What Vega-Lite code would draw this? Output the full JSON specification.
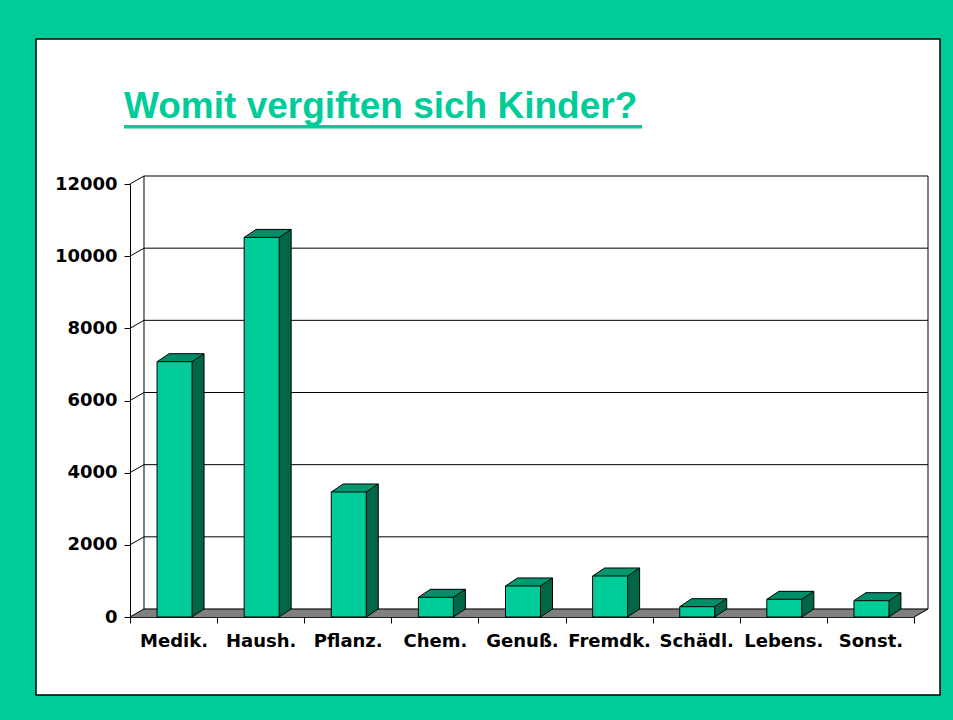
{
  "$schema": "https://vega.github.io/schema/vega-lite/v6.json",
  "width": 904,
  "height": 656,
  "autosize": "none",
  "padding": {"left": 36, "top": 39, "right": 13, "bottom": 25},
  "background": "#00CC99",
  "config": {
    "view": {"fill": "#FFFFFF", "stroke": "#000000", "strokeWidth": 1.5},
    "axis": {"labelFont": "DejaVu Sans", "labelFontWeight": "bold", "labelFontSize": 18, "labelColor": "#000000", "domainColor": "#000000", "tickColor": "#000000", "grid": false}
  },
  "title": {
    "text": "Womit vergiften sich Kinder?",
    "anchor": "start",
    "frame": "group",
    "offset": -116,
    "dx": 88,
    "baseline": "alphabetic",
    "font": "Liberation Sans",
    "fontSize": 37,
    "fontWeight": "bold",
    "color": "#00CC99"
  },
  "datasets": {
    "gift": [
      {"Kategorie": "Medik.", "Anzahl": 7075},
      {"Kategorie": "Haush.", "Anzahl": 10520},
      {"Kategorie": "Pflanz.", "Anzahl": 3465},
      {"Kategorie": "Chem.", "Anzahl": 546},
      {"Kategorie": "Genuß.", "Anzahl": 860},
      {"Kategorie": "Fremdk.", "Anzahl": 1136},
      {"Kategorie": "Schädl.", "Anzahl": 285},
      {"Kategorie": "Lebens.", "Anzahl": 490},
      {"Kategorie": "Sonst.", "Anzahl": 452}
    ],
    "raster": [{"wert": 0}, {"wert": 2000}, {"wert": 4000}, {"wert": 6000}, {"wert": 8000}, {"wert": 10000}, {"wert": 12000}],
    "boden": [{"wert": 0}]
  },
  "layer": [
    {"data": {"name": "boden"}, "mark": {"type": "rule", "color": "#808080", "strokeWidth": 1.3, "xOffset": -42.685, "x2Offset": 44.435, "yOffset": -0.5}, "encoding": {"x": {"datum": "Medik.", "type": "nominal", "title": null}, "x2": {"datum": "Sonst."}, "y": {"field": "wert", "type": "quantitative", "title": null}}},
    {"data": {"name": "boden"}, "mark": {"type": "rule", "color": "#808080", "strokeWidth": 1.3, "xOffset": -40.935, "x2Offset": 46.185, "yOffset": -1.5}, "encoding": {"x": {"datum": "Medik.", "type": "nominal", "title": null}, "x2": {"datum": "Sonst."}, "y": {"field": "wert", "type": "quantitative", "title": null}}},
    {"data": {"name": "boden"}, "mark": {"type": "rule", "color": "#808080", "strokeWidth": 1.3, "xOffset": -39.185, "x2Offset": 47.935, "yOffset": -2.5}, "encoding": {"x": {"datum": "Medik.", "type": "nominal", "title": null}, "x2": {"datum": "Sonst."}, "y": {"field": "wert", "type": "quantitative", "title": null}}},
    {"data": {"name": "boden"}, "mark": {"type": "rule", "color": "#808080", "strokeWidth": 1.3, "xOffset": -37.435, "x2Offset": 49.685, "yOffset": -3.5}, "encoding": {"x": {"datum": "Medik.", "type": "nominal", "title": null}, "x2": {"datum": "Sonst."}, "y": {"field": "wert", "type": "quantitative", "title": null}}},
    {"data": {"name": "boden"}, "mark": {"type": "rule", "color": "#808080", "strokeWidth": 1.3, "xOffset": -35.685, "x2Offset": 51.435, "yOffset": -4.5}, "encoding": {"x": {"datum": "Medik.", "type": "nominal", "title": null}, "x2": {"datum": "Sonst."}, "y": {"field": "wert", "type": "quantitative", "title": null}}},
    {"data": {"name": "boden"}, "mark": {"type": "rule", "color": "#808080", "strokeWidth": 1.3, "xOffset": -33.935, "x2Offset": 53.185, "yOffset": -5.5}, "encoding": {"x": {"datum": "Medik.", "type": "nominal", "title": null}, "x2": {"datum": "Sonst."}, "y": {"field": "wert", "type": "quantitative", "title": null}}},
    {"data": {"name": "boden"}, "mark": {"type": "rule", "color": "#808080", "strokeWidth": 1.3, "xOffset": -32.185, "x2Offset": 54.935, "yOffset": -6.5}, "encoding": {"x": {"datum": "Medik.", "type": "nominal", "title": null}, "x2": {"datum": "Sonst."}, "y": {"field": "wert", "type": "quantitative", "title": null}}},
    {"data": {"name": "boden"}, "mark": {"type": "rule", "color": "#808080", "strokeWidth": 1.3, "xOffset": -30.435, "x2Offset": 56.685, "yOffset": -7.5}, "encoding": {"x": {"datum": "Medik.", "type": "nominal", "title": null}, "x2": {"datum": "Sonst."}, "y": {"field": "wert", "type": "quantitative", "title": null}}},

    {"data": {"name": "raster"}, "mark": {"type": "rule", "color": "#000000", "strokeWidth": 1, "xOffset": -29.56, "x2Offset": 57.56, "yOffset": -8}, "encoding": {"x": {"datum": "Medik.", "type": "nominal", "title": null}, "x2": {"datum": "Sonst."}, "y": {"field": "wert", "type": "quantitative", "title": null}}},
    {"data": {"name": "raster"}, "mark": {"type": "rule", "color": "#000000", "strokeWidth": 1, "xOffset": -43.56, "x2Offset": -29.56, "y2Offset": -8}, "encoding": {"x": {"datum": "Medik.", "type": "nominal", "title": null}, "x2": {"datum": "Medik."}, "y": {"field": "wert", "type": "quantitative", "title": null}, "y2": {"field": "wert"}}},
    {"data": {"name": "boden"}, "mark": {"type": "rule", "color": "#000000", "strokeWidth": 1, "xOffset": -29.56, "yOffset": -8, "y2Offset": -8}, "encoding": {"x": {"datum": "Medik.", "type": "nominal", "title": null}, "y": {"field": "wert", "type": "quantitative", "title": null}, "y2": {"datum": 12000}}},
    {"data": {"name": "boden"}, "mark": {"type": "rule", "color": "#000000", "strokeWidth": 1, "xOffset": 57.56, "yOffset": -8, "y2Offset": -8}, "encoding": {"x": {"datum": "Sonst.", "type": "nominal", "title": null}, "y": {"field": "wert", "type": "quantitative", "title": null}, "y2": {"datum": 12000}}},
    {"data": {"name": "boden"}, "mark": {"type": "rule", "color": "#000000", "strokeWidth": 1, "xOffset": 43.56, "x2Offset": 57.56, "y2Offset": -8}, "encoding": {"x": {"datum": "Sonst.", "type": "nominal", "title": null}, "x2": {"datum": "Sonst."}, "y": {"field": "wert", "type": "quantitative", "title": null}, "y2": {"field": "wert"}}},

    {"data": {"name": "gift"}, "mark": {"type": "bar", "width": 35, "color": "#006648", "xOffset": 2.5, "yOffset": -1, "y2Offset": -1}, "encoding": {"x": {"field": "Kategorie", "type": "nominal", "sort": null, "title": null}, "y": {"field": "Anzahl", "type": "quantitative", "title": null}}},
    {"data": {"name": "gift"}, "mark": {"type": "bar", "width": 35, "color": "#006648", "xOffset": 4, "yOffset": -2, "y2Offset": -2}, "encoding": {"x": {"field": "Kategorie", "type": "nominal", "sort": null, "title": null}, "y": {"field": "Anzahl", "type": "quantitative", "title": null}}},
    {"data": {"name": "gift"}, "mark": {"type": "bar", "width": 35, "color": "#006648", "xOffset": 5.5, "yOffset": -3, "y2Offset": -3}, "encoding": {"x": {"field": "Kategorie", "type": "nominal", "sort": null, "title": null}, "y": {"field": "Anzahl", "type": "quantitative", "title": null}}},
    {"data": {"name": "gift"}, "mark": {"type": "bar", "width": 35, "color": "#006648", "xOffset": 7, "yOffset": -4, "y2Offset": -4}, "encoding": {"x": {"field": "Kategorie", "type": "nominal", "sort": null, "title": null}, "y": {"field": "Anzahl", "type": "quantitative", "title": null}}},
    {"data": {"name": "gift"}, "mark": {"type": "bar", "width": 35, "color": "#006648", "xOffset": 8.5, "yOffset": -5, "y2Offset": -5}, "encoding": {"x": {"field": "Kategorie", "type": "nominal", "sort": null, "title": null}, "y": {"field": "Anzahl", "type": "quantitative", "title": null}}},
    {"data": {"name": "gift"}, "mark": {"type": "bar", "width": 35, "color": "#006648", "xOffset": 10, "yOffset": -6, "y2Offset": -6}, "encoding": {"x": {"field": "Kategorie", "type": "nominal", "sort": null, "title": null}, "y": {"field": "Anzahl", "type": "quantitative", "title": null}}},
    {"data": {"name": "gift"}, "mark": {"type": "bar", "width": 35, "color": "#006648", "xOffset": 11.5, "yOffset": -7, "y2Offset": -7}, "encoding": {"x": {"field": "Kategorie", "type": "nominal", "sort": null, "title": null}, "y": {"field": "Anzahl", "type": "quantitative", "title": null}}},
    {"data": {"name": "gift"}, "mark": {"type": "bar", "width": 35, "color": "#006648", "xOffset": 13, "yOffset": -8, "y2Offset": -8}, "encoding": {"x": {"field": "Kategorie", "type": "nominal", "sort": null, "title": null}, "y": {"field": "Anzahl", "type": "quantitative", "title": null}}},

    {"data": {"name": "gift"}, "mark": {"type": "bar", "width": 35, "color": "#009970", "xOffset": 1.75, "yOffset": -1, "y2Offset": 0}, "encoding": {"x": {"field": "Kategorie", "type": "nominal", "sort": null, "title": null}, "y": {"field": "Anzahl", "type": "quantitative", "title": null}, "y2": {"field": "Anzahl"}}},
    {"data": {"name": "gift"}, "mark": {"type": "bar", "width": 35, "color": "#009970", "xOffset": 3.25, "yOffset": -2, "y2Offset": -1}, "encoding": {"x": {"field": "Kategorie", "type": "nominal", "sort": null, "title": null}, "y": {"field": "Anzahl", "type": "quantitative", "title": null}, "y2": {"field": "Anzahl"}}},
    {"data": {"name": "gift"}, "mark": {"type": "bar", "width": 35, "color": "#009970", "xOffset": 4.75, "yOffset": -3, "y2Offset": -2}, "encoding": {"x": {"field": "Kategorie", "type": "nominal", "sort": null, "title": null}, "y": {"field": "Anzahl", "type": "quantitative", "title": null}, "y2": {"field": "Anzahl"}}},
    {"data": {"name": "gift"}, "mark": {"type": "bar", "width": 35, "color": "#009970", "xOffset": 6.25, "yOffset": -4, "y2Offset": -3}, "encoding": {"x": {"field": "Kategorie", "type": "nominal", "sort": null, "title": null}, "y": {"field": "Anzahl", "type": "quantitative", "title": null}, "y2": {"field": "Anzahl"}}},
    {"data": {"name": "gift"}, "mark": {"type": "bar", "width": 35, "color": "#009970", "xOffset": 7.75, "yOffset": -5, "y2Offset": -4}, "encoding": {"x": {"field": "Kategorie", "type": "nominal", "sort": null, "title": null}, "y": {"field": "Anzahl", "type": "quantitative", "title": null}, "y2": {"field": "Anzahl"}}},
    {"data": {"name": "gift"}, "mark": {"type": "bar", "width": 35, "color": "#009970", "xOffset": 9.25, "yOffset": -6, "y2Offset": -5}, "encoding": {"x": {"field": "Kategorie", "type": "nominal", "sort": null, "title": null}, "y": {"field": "Anzahl", "type": "quantitative", "title": null}, "y2": {"field": "Anzahl"}}},
    {"data": {"name": "gift"}, "mark": {"type": "bar", "width": 35, "color": "#009970", "xOffset": 10.75, "yOffset": -7, "y2Offset": -6}, "encoding": {"x": {"field": "Kategorie", "type": "nominal", "sort": null, "title": null}, "y": {"field": "Anzahl", "type": "quantitative", "title": null}, "y2": {"field": "Anzahl"}}},
    {"data": {"name": "gift"}, "mark": {"type": "bar", "width": 35, "color": "#009970", "xOffset": 12.25, "yOffset": -8, "y2Offset": -7}, "encoding": {"x": {"field": "Kategorie", "type": "nominal", "sort": null, "title": null}, "y": {"field": "Anzahl", "type": "quantitative", "title": null}, "y2": {"field": "Anzahl"}}},

    {"data": {"name": "gift"}, "mark": {"type": "rule", "color": "#000000", "strokeWidth": 1, "xOffset": -4.5, "x2Offset": 30.5, "yOffset": -8}, "encoding": {"x": {"field": "Kategorie", "type": "nominal", "sort": null, "title": null}, "x2": {"field": "Kategorie"}, "y": {"field": "Anzahl", "type": "quantitative", "title": null}}},
    {"data": {"name": "gift"}, "mark": {"type": "rule", "color": "#000000", "strokeWidth": 1, "xOffset": 30.5, "yOffset": -8, "y2Offset": -8}, "encoding": {"x": {"field": "Kategorie", "type": "nominal", "sort": null, "title": null}, "y": {"field": "Anzahl", "type": "quantitative", "title": null}, "y2": {"datum": 0}}},
    {"data": {"name": "gift"}, "mark": {"type": "rule", "color": "#000000", "strokeWidth": 1, "xOffset": -16.5, "x2Offset": -4.5, "y2Offset": -8}, "encoding": {"x": {"field": "Kategorie", "type": "nominal", "sort": null, "title": null}, "x2": {"field": "Kategorie"}, "y": {"field": "Anzahl", "type": "quantitative", "title": null}, "y2": {"field": "Anzahl"}}},
    {"data": {"name": "gift"}, "mark": {"type": "rule", "color": "#000000", "strokeWidth": 1, "xOffset": 18.5, "x2Offset": 30.5, "y2Offset": -8}, "encoding": {"x": {"field": "Kategorie", "type": "nominal", "sort": null, "title": null}, "x2": {"field": "Kategorie"}, "y": {"field": "Anzahl", "type": "quantitative", "title": null}, "y2": {"field": "Anzahl"}}},
    {"data": {"name": "gift"}, "mark": {"type": "rule", "color": "#000000", "strokeWidth": 1, "xOffset": 18.5, "x2Offset": 30.5, "y2Offset": -8}, "encoding": {"x": {"field": "Kategorie", "type": "nominal", "sort": null, "title": null}, "x2": {"field": "Kategorie"}, "y": {"datum": 0, "type": "quantitative", "title": null}, "y2": {"datum": 0}}},

    {
      "data": {"name": "gift"},
      "mark": {"type": "bar", "width": 35, "color": "#00CC99", "stroke": "#000000", "strokeWidth": 1, "xOffset": 1},
      "encoding": {
        "x": {
          "field": "Kategorie", "type": "nominal", "sort": null, "title": null,
          "scale": {"domain": ["Medik.", "Haush.", "Pflanz.", "Chem.", "Genuß.", "Fremdk.", "Schädl.", "Lebens.", "Sonst."], "range": [94, 878], "paddingInner": 0, "paddingOuter": 0},
          "axis": {"title": null, "offset": -78, "orient": "bottom", "tickBand": "extent", "tickSize": 6, "labelAngle": 0, "labelAlign": "center", "labelBaseline": "top", "labelPadding": 9, "labelOverlap": false, "labelFlush": false, "domainWidth": 1}
        },
        "y": {
          "field": "Anzahl", "type": "quantitative", "title": null,
          "scale": {"domain": [0, 12000], "range": [578, 145], "nice": false, "zero": true},
          "axis": {"title": null, "offset": -94, "values": [0, 2000, 4000, 6000, 8000, 10000, 12000], "format": "d", "tickSize": 6, "labelAlign": "right", "labelBaseline": "middle", "labelPadding": 7, "labelFlush": false, "labelOverlap": false, "domainWidth": 1}
        }
      }
    },

    {"data": {"name": "boden"}, "mark": {"type": "rule", "color": "#00CC99", "strokeWidth": 3.5, "xOffset": -49.56, "x2Offset": 32.9, "yOffset": -57.3}, "encoding": {"x": {"datum": "Medik.", "type": "nominal", "title": null}, "x2": {"datum": "Fremdk."}, "y": {"datum": 12000, "type": "quantitative", "title": null}}}
  ]
}
